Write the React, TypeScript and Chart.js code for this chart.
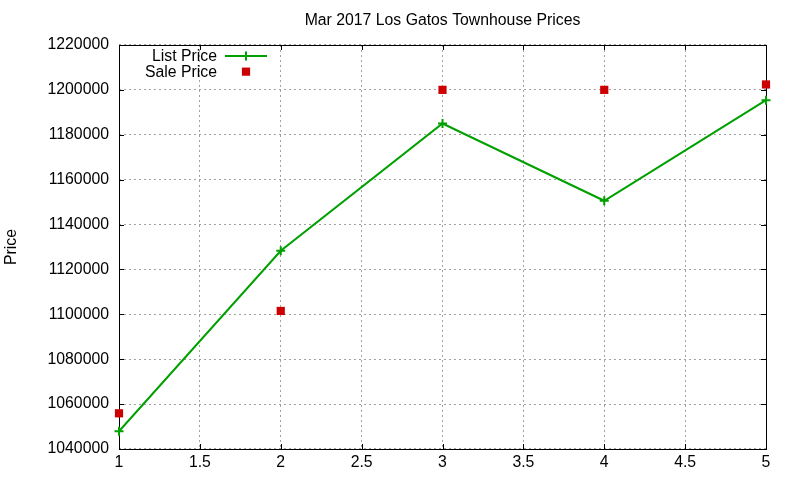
import React, { useEffect, useRef } from 'react';
import { Chart, registerables } from 'chart.js';

Chart.register(...registerables);

const xValues = [1, 2, 3, 4, 5];
const listPrice = [1047900, 1128300, 1185000, 1150600, 1195400];
const salePrice = [1055900, 1101500, 1200000, 1200000, 1202400];
const seriesNames = ['List Price', 'Sale Price'];
const chartTitle = 'Mar 2017 Los Gatos Townhouse Prices';
const yAxisTitle = 'Price';
const yRange = [1040000, 1220000];
const yStep = 20000;
const xRange = [1, 5];
const xStep = 0.5;

const FONT = '"Liberation Sans", Arial, sans-serif';
const FS = 15.8;

const framePlugin = {
  id: 'gpFrame',
  beforeDatasetsDraw(chart: any) {
    const { ctx, chartArea, scales } = chart;
    const { left, right, top, bottom } = chartArea;
    ctx.save();
    ctx.strokeStyle = '#000';
    ctx.lineWidth = 1;
    ctx.setLineDash([]);
    ctx.beginPath();
    const tl = 5;
    scales.y.ticks.forEach((t: any) => {
      const y = Math.round(scales.y.getPixelForValue(t.value)) + 0.5;
      ctx.moveTo(left, y);
      ctx.lineTo(left + tl, y);
      ctx.moveTo(right, y);
      ctx.lineTo(right - tl, y);
    });
    scales.x.ticks.forEach((t: any) => {
      const x = Math.round(scales.x.getPixelForValue(t.value)) + 0.5;
      ctx.moveTo(x, bottom);
      ctx.lineTo(x, bottom - tl);
      ctx.moveTo(x, top);
      ctx.lineTo(x, top + tl);
    });
    ctx.stroke();
    ctx.strokeRect(Math.round(left) + 0.5, Math.round(top) + 0.5, Math.round(right - left), Math.round(bottom - top));
    ctx.restore();
  },
};

const legendPlugin = {
  id: 'gpLegend',
  afterDraw(chart: any) {
    const { ctx, chartArea } = chart;
    const textRight = chartArea.left + 98;
    const s0 = chartArea.left + 106;
    const s1 = chartArea.left + 148;
    const cx = (s0 + s1) / 2;
    chart.data.datasets.forEach((ds: any, i: number) => {
      const y = chartArea.top + 11 + i * 15.7;
      ctx.save();
      ctx.font = `${FS}px ${FONT}`;
      ctx.fillStyle = '#000';
      ctx.textAlign = 'right';
      ctx.textBaseline = 'middle';
      ctx.fillText(ds.label, textRight, y + 1);
      if (ds.showLine !== false) {
        ctx.strokeStyle = ds.borderColor;
        ctx.lineWidth = ds.borderWidth;
        ctx.beginPath();
        ctx.moveTo(s0, y);
        ctx.lineTo(s1, y);
        ctx.stroke();
      }
      if (ds.pointStyle === 'cross') {
        const r = ds.pointRadius;
        ctx.strokeStyle = ds.pointBorderColor;
        ctx.lineWidth = ds.pointBorderWidth;
        ctx.beginPath();
        ctx.moveTo(cx - r, y);
        ctx.lineTo(cx + r, y);
        ctx.moveTo(cx, y - r);
        ctx.lineTo(cx, y + r);
        ctx.stroke();
      } else {
        const half = ds.pointRadius * Math.SQRT1_2;
        ctx.fillStyle = ds.pointBackgroundColor;
        ctx.fillRect(cx - half, y - half, half * 2, half * 2);
      }
      ctx.restore();
    });
  },
};

export default function App() {
  const ref = useRef<HTMLCanvasElement>(null);
  useEffect(() => {
    if (!ref.current) return;
    const chart = new Chart(ref.current, {
      type: 'scatter',
      data: {
        datasets: [
          {
            label: seriesNames[0],
            data: xValues.map((x, i) => ({ x, y: listPrice[i] })),
            showLine: true,
            borderColor: '#00a000',
            backgroundColor: '#00a000',
            borderWidth: 2,
            pointStyle: 'cross',
            pointRadius: 4.5,
            pointBorderWidth: 2,
            pointBorderColor: '#00a000',
            pointBackgroundColor: '#00a000',
            clip: false,
          } as any,
          {
            label: seriesNames[1],
            data: xValues.map((x, i) => ({ x, y: salePrice[i] })),
            showLine: false,
            borderColor: '#cc0000',
            backgroundColor: '#cc0000',
            pointStyle: 'rect',
            pointRadius: 5.8,
            pointBorderWidth: 0,
            pointBorderColor: '#cc0000',
            pointBackgroundColor: '#cc0000',
            clip: false,
          } as any,
        ],
      },
      options: {
        animation: false,
        responsive: false,
        devicePixelRatio: 1,
        layout: { padding: { left: 0, right: 34, top: 0, bottom: 0 } },
        plugins: {
          legend: { display: false },
          tooltip: { enabled: false },
          title: {
            display: true,
            text: chartTitle,
            fullSize: false,
            color: '#000',
            font: { family: FONT, size: FS, weight: 'normal' },
            padding: { top: 11.5, bottom: 14.5 },
          } as any,
        },
        scales: {
          x: {
            type: 'linear',
            min: xRange[0],
            max: xRange[1],
            afterFit(scale: any) {
              scale.height = 31;
            },
            ticks: {
              stepSize: xStep,
              color: '#000',
              padding: 4,
              font: { family: FONT, size: FS },
              callback: (v: any) => String(v),
            },
            grid: {
              drawTicks: false,
              color: '#a0a0a0',
              lineWidth: 1,
            },
            border: { display: false, dash: [2, 3] },
          },
          y: {
            type: 'linear',
            min: yRange[0],
            max: yRange[1],
            afterFit(scale: any) {
              scale.width = 119;
            },
            title: {
              display: true,
              text: yAxisTitle,
              color: '#000',
              font: { family: FONT, size: FS },
              padding: { top: 2, bottom: 0 },
            },
            ticks: {
              stepSize: yStep,
              color: '#000',
              padding: 10,
              font: { family: FONT, size: FS },
              callback: (v: any) => String(v),
            },
            grid: {
              drawTicks: false,
              color: '#a0a0a0',
              lineWidth: 1,
            },
            border: { display: false, dash: [2, 3] },
          },
        },
      },
      plugins: [framePlugin, legendPlugin],
    });
    return () => chart.destroy();
  }, []);
  return (
    <div style={{ position: 'absolute', left: 0, top: 0, width: 800, height: 480, background: '#fff' }}>
      <canvas ref={ref} width={800} height={480} style={{ display: 'block' }} />
    </div>
  );
}
